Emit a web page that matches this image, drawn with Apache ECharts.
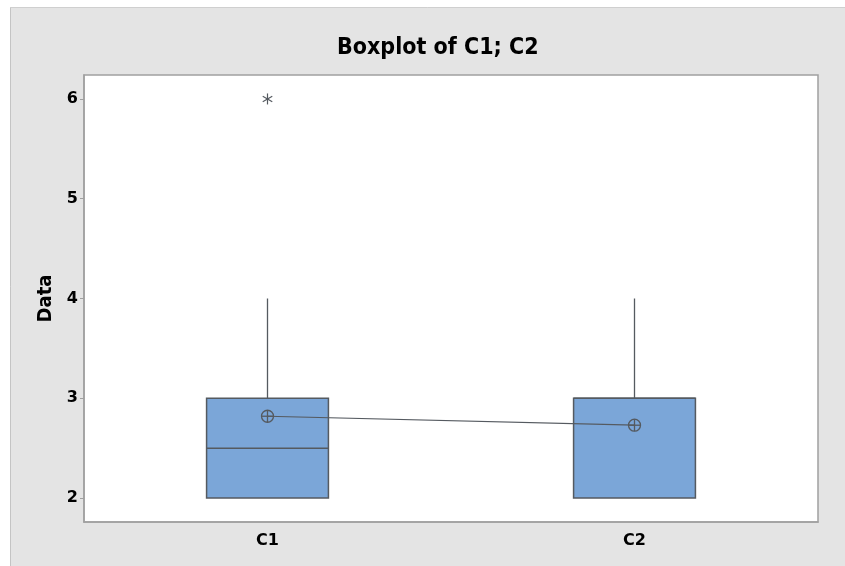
<!DOCTYPE html>
<html>
<head>
<meta charset="utf-8">
<script src="https://cdn.jsdelivr.net/npm/echarts@6/dist/echarts.min.js"></script>
<style>
  html, body { margin: 0; padding: 0; background: #fff; }
  #box { width: 845px; height: 566px; }
</style>
</head>
<body>
<div id="box"></div>
<script>
// columns and five-number summaries
const categories = ["C1", "C2"];
const whiskerLow = [2, 2];
const q1 = [2, 2];
const median = [2.5, 3];
const q3 = [3, 3];
const whiskerHigh = [4, 4];
const means = [2.82, 2.73];
// outliers: [category index, value]
const outliers = [[0, 6]];
const yTicks = [2, 3, 4, 5, 6];

const boxData = categories.map((c, i) => [i, whiskerLow[i], q1[i], median[i], q3[i], whiskerHigh[i]]);
const meanData = categories.map((c, i) => [i, means[i]]);

const ink = "#555a60";

function renderBox(params, api) {
  const x = api.value(0);
  const lo = api.coord([x, api.value(1)]);
  const b1 = api.coord([x, api.value(2)]);
  const md = api.coord([x, api.value(3)]);
  const b3 = api.coord([x, api.value(4)]);
  const hi = api.coord([x, api.value(5)]);
  const half = api.size([1, 0])[0] * 0.332 / 2;
  const lineStyle = { stroke: ink, lineWidth: 1.3, fill: null };
  return {
    type: "group",
    children: [
      { type: "line", shape: { x1: hi[0], y1: hi[1], x2: b3[0], y2: b3[1] }, style: lineStyle },
      { type: "line", shape: { x1: lo[0], y1: lo[1], x2: b1[0], y2: b1[1] }, style: lineStyle },
      {
        type: "rect",
        shape: { x: b3[0] - half, y: b3[1], width: half * 2, height: b1[1] - b3[1] },
        style: { fill: "#7ba6d8", stroke: ink, lineWidth: 1.5 }
      },
      { type: "line", shape: { x1: md[0] - half, y1: md[1], x2: md[0] + half, y2: md[1] }, style: { stroke: ink, lineWidth: 1.5 } }
    ]
  };
}

function renderMean(params, api) {
  const p = api.coord([api.value(0), api.value(1)]);
  const r = 6;
  const st = { stroke: ink, lineWidth: 1.3, fill: null };
  return {
    type: "group",
    children: [
      { type: "circle", shape: { cx: p[0], cy: p[1], r: r }, style: st },
      { type: "line", shape: { x1: p[0] - r, y1: p[1], x2: p[0] + r, y2: p[1] }, style: st },
      { type: "line", shape: { x1: p[0], y1: p[1] - r, x2: p[0], y2: p[1] + r }, style: st }
    ]
  };
}

function renderStar(params, api) {
  const p = api.coord([api.value(0), api.value(1)]);
  const r = 5.5;
  const st = { stroke: ink, lineWidth: 1.2 };
  const kids = [0, 60, 120].map(a => {
    const t = (a + 90) * Math.PI / 180;
    const dx = Math.cos(t) * r, dy = Math.sin(t) * r;
    return { type: "line", shape: { x1: p[0] - dx, y1: p[1] - dy, x2: p[0] + dx, y2: p[1] + dy }, style: st };
  });
  return { type: "group", children: kids };
}

const chart = echarts.init(document.getElementById("box"));
const labelFont = { color: "#000", fontWeight: "bold", fontSize: 16, fontFamily: "DejaVu Sans" };
const headFont = "Liberation Sans Narrow, DejaVu Sans Condensed, sans-serif";

chart.setOption({
  backgroundColor: "#e4e4e4",
  animation: false,
  graphic: [
    { type: "rect", shape: { x: 0, y: 0, width: 845, height: 7 }, style: { fill: "#fff" } },
    { type: "rect", shape: { x: 0, y: 0, width: 10, height: 566 }, style: { fill: "#fff" } },
    { type: "line", shape: { x1: 10.5, y1: 7, x2: 10.5, y2: 566 }, style: { stroke: "#c4c4c4", lineWidth: 1 } },
    { type: "line", shape: { x1: 10, y1: 7.5, x2: 845, y2: 7.5 }, style: { stroke: "#cfcfcf", lineWidth: 1 } }
  ],
  title: {
    text: "Boxplot of C1; C2",
    left: 332,
    top: 32,
    textStyle: { color: "#000", fontWeight: "bold", fontSize: 23, fontFamily: headFont }
  },
  grid: {
    left: 84, right: 27, top: 75, bottom: 44,
    show: true, backgroundColor: "#fff", borderColor: "#a0a0a0", borderWidth: 1.5
  },
  xAxis: {
    type: "category",
    data: categories,
    axisLine: { lineStyle: { color: "#a0a0a0", width: 1.5 } },
    axisTick: { alignWithLabel: true, length: 5, lineStyle: { color: "#a0a0a0" } },
    axisLabel: Object.assign({ margin: 11 }, labelFont),
    splitLine: { show: false }
  },
  yAxis: {
    type: "value",
    min: 1.76,
    max: 6.24,
    name: "Data",
    nameLocation: "middle",
    nameRotate: 90,
    nameGap: 27,
    nameTextStyle: { color: "#000", fontWeight: "bold", fontSize: 20, fontFamily: headFont },
    axisLine: { show: true, lineStyle: { color: "#a0a0a0", width: 1.5 } },
    axisTick: { show: true, length: 4, customValues: yTicks, lineStyle: { color: "#a0a0a0" } },
    axisLabel: Object.assign({ margin: 6, customValues: yTicks }, labelFont),
    splitLine: { show: false }
  },
  series: [
    { type: "custom", renderItem: renderBox, data: boxData, encode: { x: 0, y: [1, 2, 3, 4, 5] }, z: 2 },
    { type: "line", data: meanData, symbol: "none", lineStyle: { color: ink, width: 1.2 }, z: 3 },
    { type: "custom", renderItem: renderMean, data: meanData, encode: { x: 0, y: 1 }, z: 4 },
    { type: "custom", renderItem: renderStar, data: outliers, encode: { x: 0, y: 1 }, z: 4 }
  ]
});
</script>
</body>
</html>
